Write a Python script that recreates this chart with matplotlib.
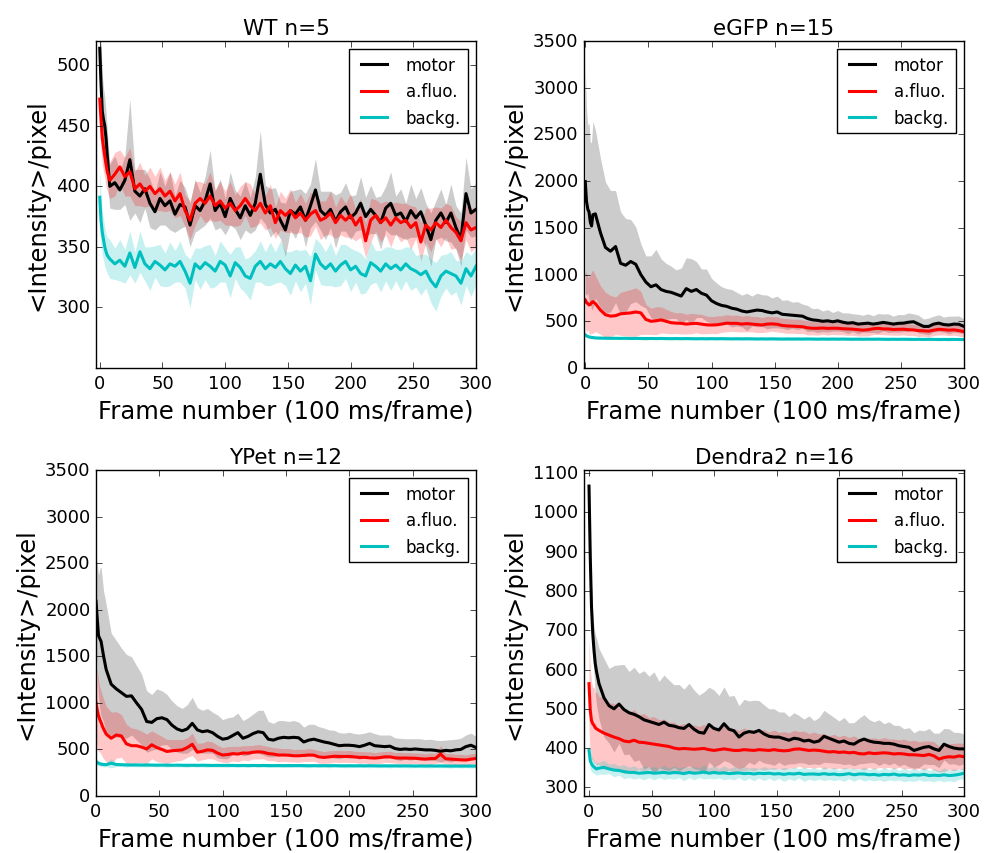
import matplotlib
matplotlib.use('Agg')
import matplotlib.pyplot as plt
import numpy as np

plt.style.use('classic')
plt.rcParams['font.family'] = ['DejaVu Sans']
plt.rcParams['figure.facecolor'] = 'white'
plt.rcParams['savefig.facecolor'] = 'white'

# frame numbers at which values were read
FRAMES = [0, 1, 2, 3, 4, 5, 6] + list(range(8, 301, 4))

SERIES_LABELS = ['motor', 'a.fluo.', 'backg.']
TITLES = ['WT n=5', 'eGFP n=15', 'YPet n=12', 'Dendra2 n=16']
X_TICKS = [0, 50, 100, 150, 200, 250, 300]

# ---------------- WT ----------------
wt_motor = [514, 485, 462, 455, 450, 440, 425, 400, 403, 397,
            405, 422, 396, 392, 398, 386, 379, 390, 384, 388,
            377, 385, 383, 368, 384, 380, 388, 402, 380, 386,
            375, 390, 381, 374, 384, 376, 386, 410, 385, 378,
            381, 372, 364, 380, 377, 383, 372, 384, 397, 380,
            376, 381, 371, 379, 383, 374, 378, 386, 375, 381,
            376, 370, 382, 386, 376, 378, 371, 380, 374, 379,
            368, 356, 372, 378, 370, 378, 366, 356, 394, 378,
            381]
wt_motor_sd = [40, 35, 30, 26, 24, 22, 20, 18, 22, 16,
               20, 50, 18, 22, 16, 20, 15, 22, 16, 24,
               15, 20, 16, 18, 22, 15, 20, 28, 16, 20,
               15, 22, 16, 18, 20, 15, 22, 36, 16, 20,
               18, 15, 22, 16, 20, 15, 22, 18, 26, 16,
               20, 15, 22, 16, 20, 18, 15, 22, 16, 20,
               15, 22, 18, 26, 16, 20, 15, 22, 16, 20,
               18, 22, 16, 20, 15, 24, 18, 22, 30, 20,
               22]
wt_afluo = [472, 455, 440, 432, 425, 418, 412, 405, 410, 416,
            408, 412, 398, 402, 396, 400, 394, 398, 392, 396,
            388, 394, 380, 372, 386, 390, 386, 392, 384, 388,
            382, 386, 380, 384, 390, 384, 380, 386, 378, 384,
            370, 380, 376, 380, 374, 378, 372, 377, 380, 372,
            374, 378, 370, 376, 372, 376, 368, 374, 355, 372,
            376, 370, 374, 368, 374, 370, 372, 366, 370, 354,
            368, 364, 370, 366, 372, 366, 362, 355, 370, 364,
            366]
wt_afluo_sd = [28, 25, 22, 20, 18, 18, 16, 15, 18, 14,
               16, 20, 14, 18, 13, 16, 14, 18, 13, 16,
               14, 18, 13, 16, 18, 14, 16, 20, 13, 16,
               14, 18, 13, 16, 14, 18, 13, 16, 14, 18,
               13, 16, 14, 18, 13, 16, 14, 18, 13, 16,
               14, 18, 13, 16, 14, 18, 13, 16, 14, 18,
               13, 16, 14, 18, 13, 16, 14, 18, 13, 16,
               14, 18, 13, 16, 14, 18, 13, 16, 14, 18,
               16]
wt_backg = [391, 372, 362, 356, 350, 346, 343, 340, 336, 339,
            334, 345, 333, 346, 336, 332, 338, 335, 331, 336,
            334, 338, 330, 320, 336, 332, 337, 334, 330, 338,
            335, 326, 337, 333, 326, 324, 334, 338, 332, 336,
            333, 338, 332, 328, 335, 330, 334, 322, 344, 336,
            332, 336, 330, 335, 338, 331, 334, 328, 326, 337,
            334, 330, 336, 332, 335, 331, 336, 332, 330, 327,
            330, 322, 317, 326, 330, 328, 326, 320, 332, 326,
            334]
wt_backg_sd = [24, 20, 18, 17, 16, 15, 15, 16, 13, 17,
               14, 18, 13, 17, 14, 18, 13, 17, 14, 18,
               13, 17, 14, 20, 13, 17, 14, 18, 13, 17,
               14, 18, 13, 17, 14, 18, 13, 17, 14, 18,
               13, 17, 14, 18, 13, 17, 14, 20, 13, 17,
               14, 18, 13, 17, 14, 18, 13, 17, 14, 18,
               13, 17, 14, 18, 13, 17, 14, 18, 13, 17,
               14, 18, 20, 17, 14, 18, 13, 18, 14, 17,
               15]

# ---------------- eGFP ----------------
egfp_motor = [1996, 1780, 1700, 1670, 1560, 1520, 1640, 1650, 1450, 1290,
              1250, 1300, 1120, 1100, 1140, 1110, 1000, 920, 870, 890,
              840, 820, 810, 790, 770, 850, 820, 840, 800, 780,
              720, 690, 670, 660, 640, 630, 610, 600, 610, 620,
              615, 600, 590, 600, 575, 570, 565, 560, 555, 530,
              515, 510, 500, 505, 495, 505, 490, 480, 485, 470,
              475, 480, 470, 478, 488, 480, 470, 478, 480, 490,
              495, 470, 445, 445, 470, 480, 465, 460, 470, 468,
              445]
egfp_motor_sd = [1200, 1000, 900, 950, 850, 900, 1000, 900, 800, 700,
                 650, 600, 550, 500, 450, 400, 330, 280, 330, 380,
                 330, 300, 280, 260, 300, 330, 350, 300, 260, 280,
                 240, 220, 200, 190, 200, 180, 170, 200, 160, 180,
                 170, 180, 160, 170, 150, 160, 140, 150, 130, 140,
                 120, 130, 110, 120, 100, 110, 100, 110, 95, 105,
                 90, 100, 90, 105, 90, 100, 85, 95, 90, 100,
                 85, 95, 80, 90, 85, 90, 80, 95, 85, 90,
                 80]
egfp_afluo = [728, 700, 690, 675, 680, 700, 710, 690, 620, 570,
              555, 560, 580, 585, 590, 600, 590, 520, 500, 505,
              515, 500, 485, 480, 478, 470, 475, 478, 470, 462,
              460, 462, 470, 480, 478, 478, 470, 475, 470, 465,
              460, 470, 472, 468, 455, 450, 448, 445, 442, 430,
              425, 425, 428, 424, 426, 425, 420, 418, 415, 410,
              405, 410, 420, 425, 418, 418, 412, 414, 415, 410,
              407, 400, 398, 394, 405, 414, 410, 405, 408, 400,
              390]
egfp_afluo_sd = [300, 320, 280, 300, 320, 330, 340, 300, 260, 240,
                 220, 200, 230, 240, 250, 260, 230, 160, 140, 150,
                 140, 130, 120, 110, 115, 105, 110, 100, 105, 95,
                 90, 95, 88, 92, 85, 90, 84, 88, 82, 86,
                 80, 84, 78, 82, 76, 80, 74, 78, 72, 76,
                 70, 74, 68, 72, 66, 70, 65, 69, 64, 68,
                 63, 67, 62, 66, 61, 65, 60, 64, 60, 64,
                 58, 62, 58, 62, 57, 61, 56, 60, 56, 60,
                 56]
egfp_backg = [355, 345, 338, 333, 330, 328, 326, 322, 320, 319,
              318, 318, 317, 318, 316, 317, 316, 315, 316, 315,
              316, 315, 314, 315, 314, 315, 314, 313, 314, 313,
              314, 313, 314, 313, 312, 313, 312, 313, 312, 311,
              312, 311, 312, 311, 310, 311, 310, 311, 310, 311,
              310, 309, 310, 309, 310, 309, 310, 309, 308, 309,
              308, 309, 308, 309, 308, 307, 308, 307, 308, 307,
              306, 307, 306, 307, 306, 305, 306, 305, 306, 305,
              305]
egfp_backg_sd = [22, 20, 18, 16, 15, 14, 14, 13, 12, 14,
                 11, 13, 12, 14, 11, 13, 12, 14, 11, 13,
                 12, 14, 11, 13, 12, 14, 11, 13, 12, 14,
                 11, 13, 12, 14, 11, 13, 12, 14, 11, 13,
                 12, 14, 11, 13, 12, 14, 11, 13, 12, 14,
                 11, 13, 12, 14, 11, 13, 12, 14, 11, 13,
                 12, 14, 11, 13, 12, 14, 11, 13, 12, 14,
                 11, 13, 12, 14, 11, 13, 12, 14, 11, 13,
                 12]

# ---------------- YPet ----------------
ypet_motor = [2092, 1900, 1720, 1690, 1660, 1580, 1500, 1360, 1200, 1150,
              1110, 1070, 1075, 1000, 930, 800, 790, 830, 840, 820,
              760, 720, 700, 720, 780, 710, 690, 700, 680, 640,
              610, 620, 650, 680, 620, 640, 670, 690, 680, 610,
              600, 620, 630, 625, 630, 625, 580, 600, 610, 595,
              580, 570, 555, 540, 545, 545, 540, 530, 545, 565,
              540, 535, 530, 535, 510, 500, 505, 500, 505, 500,
              495, 495, 490, 480, 490, 485, 495, 500, 530, 545,
              520]
ypet_motor_sd = [450, 600, 650, 750, 800, 750, 700, 700, 550, 520,
                 480, 450, 420, 400, 380, 330, 300, 320, 290, 270,
                 260, 250, 240, 260, 280, 240, 230, 240, 220, 230,
                 210, 220, 200, 210, 190, 200, 210, 230, 240, 190,
                 180, 190, 180, 175, 180, 170, 160, 170, 160, 150,
                 150, 140, 150, 140, 130, 140, 130, 135, 130, 125,
                 130, 120, 125, 120, 115, 120, 110, 115, 110, 115,
                 110, 115, 110, 115, 110, 120, 115, 120, 125, 130,
                 120]
ypet_afluo = [1003, 920, 860, 820, 790, 750, 720, 665, 620, 655,
              645, 560, 540, 540, 525, 505, 550, 520, 500, 478,
              486, 490, 495, 520, 555, 470, 480, 495, 490, 460,
              440, 445, 455, 450, 462, 460, 470, 475, 470, 455,
              450, 440, 440, 438, 432, 432, 436, 440, 438, 420,
              414, 420, 426, 425, 424, 425, 420, 414, 415, 410,
              407, 412, 420, 420, 410, 407, 408, 406, 405, 400,
              396, 402, 403, 450, 400, 396, 392, 388, 386, 395,
              403]
ypet_afluo_sd = [400, 420, 380, 350, 340, 330, 320, 300, 280, 250,
                 230, 210, 190, 180, 170, 160, 150, 150, 140, 130,
                 120, 115, 110, 105, 120, 95, 90, 95, 90, 85,
                 80, 85, 78, 82, 76, 80, 74, 78, 72, 76,
                 70, 74, 68, 72, 66, 70, 65, 69, 64, 68,
                 63, 67, 62, 66, 61, 65, 60, 64, 60, 64,
                 58, 62, 58, 62, 57, 61, 56, 60, 56, 60,
                 56, 60, 55, 90, 55, 59, 55, 59, 55, 58,
                 56]
ypet_backg = [368, 360, 352, 346, 342, 340, 338, 336, 352, 338,
              336, 334, 333, 334, 332, 333, 332, 331, 332, 331,
              330, 331, 330, 329, 330, 329, 330, 329, 328, 329,
              328, 329, 328, 327, 328, 327, 328, 327, 328, 327,
              326, 327, 326, 327, 326, 327, 326, 325, 326, 325,
              326, 325, 326, 325, 324, 325, 324, 325, 324, 325,
              324, 323, 324, 323, 324, 323, 324, 323, 322, 323,
              322, 323, 322, 323, 322, 321, 322, 321, 322, 321,
              322]
ypet_backg_sd = [30, 30, 28, 26, 25, 24, 24, 22, 50, 22,
                 18, 24, 16, 22, 18, 22, 16, 20, 18, 22,
                 16, 20, 18, 22, 16, 20, 18, 22, 16, 20,
                 18, 22, 16, 20, 18, 22, 16, 20, 18, 22,
                 16, 20, 18, 22, 16, 20, 18, 22, 16, 20,
                 18, 22, 16, 20, 18, 22, 16, 20, 18, 22,
                 16, 20, 18, 22, 16, 20, 18, 22, 16, 20,
                 18, 22, 16, 20, 18, 22, 16, 20, 18, 22,
                 18]

# ---------------- Dendra2 ----------------
dendra_motor = [1067, 888, 760, 692, 649, 615, 595, 564, 528, 508,
                500, 512, 498, 490, 486, 480, 472, 468, 464, 460,
                466, 458, 456, 452, 450, 460, 448, 440, 438, 460,
                450, 446, 462, 448, 444, 428, 438, 442, 440, 445,
                436, 430, 428, 428, 424, 420, 425, 423, 418, 420,
                415, 418, 430, 425, 420, 415, 418, 412, 410, 418,
                423, 418, 415, 414, 412, 412, 410, 406, 404, 402,
                394, 398, 402, 404, 398, 394, 410, 404, 400, 398,
                398]
dendra_motor_sd = [45, 70, 55, 50, 60, 75, 85, 90, 100, 95,
                   110, 100, 115, 105, 120, 110, 125, 115, 130, 110,
                   120, 115, 105, 110, 100, 105, 100, 95, 105, 95,
                   98, 88, 94, 84, 90, 80, 86, 78, 82, 76,
                   74, 70, 72, 64, 68, 60, 65, 60, 56, 62,
                   55, 60, 66, 62, 58, 54, 60, 52, 55, 58,
                   62, 55, 52, 58, 50, 55, 48, 52, 45, 50,
                   45, 48, 42, 46, 40, 44, 40, 45, 40, 42,
                   38]
dendra_afluo = [564, 496, 470, 462, 458, 452, 449, 445, 438, 433,
                428, 424, 418, 416, 420, 415, 414, 412, 410, 408,
                406, 404, 400, 398, 399, 398, 397, 398, 399, 396,
                394, 396, 398, 396, 394, 394, 396, 395, 394, 396,
                395, 394, 396, 394, 393, 394, 397, 398, 396, 394,
                395, 394, 392, 390, 391, 389, 390, 388, 389, 386,
                385, 388, 386, 387, 388, 387, 385, 386, 385, 383,
                383, 382, 381, 384, 380, 372, 376, 378, 377, 380,
                378]
dendra_afluo_sd = [120, 105, 100, 92, 98, 88, 94, 86, 92, 82,
                   86, 78, 82, 74, 78, 70, 74, 66, 70, 64,
                   68, 62, 66, 60, 64, 58, 62, 57, 61, 56,
                   60, 55, 58, 53, 56, 51, 55, 50, 53, 49,
                   52, 47, 50, 46, 49, 45, 48, 44, 47, 43,
                   46, 42, 45, 41, 44, 40, 43, 39, 42, 38,
                   41, 37, 40, 36, 39, 36, 38, 35, 38, 35,
                   37, 34, 37, 34, 36, 33, 36, 33, 35, 33,
                   34]
dendra_backg = [394, 368, 360, 355, 352, 349, 347, 349, 351, 347,
                344, 343, 340, 338, 338, 336, 337, 338, 336, 337,
                338, 336, 338, 337, 335, 338, 336, 337, 339, 336,
                338, 336, 337, 335, 336, 337, 335, 336, 334, 336,
                335, 336, 334, 335, 333, 335, 334, 336, 333, 334,
                334, 333, 335, 333, 334, 332, 333, 335, 332, 334,
                334, 332, 333, 331, 333, 332, 334, 331, 332, 330,
                332, 331, 333, 330, 331, 330, 332, 330, 331, 333,
                336]
dendra_backg_sd = [25, 22, 20, 18, 17, 16, 16, 15, 18, 12,
                   17, 12, 18, 13, 17, 12, 18, 13, 17, 12,
                   18, 13, 17, 12, 18, 13, 17, 12, 18, 13,
                   17, 12, 18, 13, 17, 12, 18, 13, 17, 12,
                   18, 13, 17, 12, 18, 13, 17, 12, 18, 13,
                   17, 12, 18, 13, 17, 12, 18, 13, 17, 12,
                   18, 13, 17, 12, 18, 13, 17, 12, 18, 13,
                   17, 12, 18, 13, 17, 12, 18, 13, 17, 12,
                   15]

PANELS = [
    dict(title=TITLES[0], series=[(wt_motor, wt_motor_sd), (wt_afluo, wt_afluo_sd), (wt_backg, wt_backg_sd)],
         ylim=(250, 520), yticks=[300, 350, 400, 450, 500], xlim=(-3, 300)),
    dict(title=TITLES[1], series=[(egfp_motor, egfp_motor_sd), (egfp_afluo, egfp_afluo_sd), (egfp_backg, egfp_backg_sd)],
         ylim=(0, 3500), yticks=list(range(0, 3501, 500)), xlim=(-1, 300)),
    dict(title=TITLES[2], series=[(ypet_motor, ypet_motor_sd), (ypet_afluo, ypet_afluo_sd), (ypet_backg, ypet_backg_sd)],
         ylim=(0, 3500), yticks=list(range(0, 3501, 500)), xlim=(0, 300)),
    dict(title=TITLES[3], series=[(dendra_motor, dendra_motor_sd), (dendra_afluo, dendra_afluo_sd), (dendra_backg, dendra_backg_sd)],
         ylim=(278, 1108), yticks=list(range(300, 1101, 100)), xlim=(-4, 300)),
]

COLORS = ['k', 'r', 'c']
BAND_ALPHA = [0.2, 0.22, 0.22]

W, H = 987, 854
fig = plt.figure(figsize=(W / 100, H / 100), dpi=100)
boxes = [(96, 42, 476, 369), (584, 42, 964, 369), (96, 471, 476, 797), (584, 471, 964, 797)]

x = np.array(FRAMES)
for panel, (l, t, r, b) in zip(PANELS, boxes):
    ax = fig.add_axes([l / W, 1 - b / H, (r - l) / W, (b - t) / H])
    for (mean, sd), color, alpha, lab in zip(panel['series'], COLORS, BAND_ALPHA, SERIES_LABELS):
        m = np.array(mean, dtype=float)
        s = np.array(sd, dtype=float)
        ax.fill_between(x, m - s, m + s, color=color, alpha=alpha, linewidth=0)
        ax.plot(x, m, color=color, lw=2.2, label=lab)
    ax.set_xlim(*panel['xlim'])
    ax.set_ylim(*panel['ylim'])
    ax.set_xticks(X_TICKS)
    ax.set_yticks(panel['yticks'])
    ax.tick_params(labelsize=13)
    ax.set_title(panel['title'], fontsize=15.5)
    ax.set_xlabel('Frame number (100 ms/frame)', fontsize=17.5)
    ax.set_ylabel('<Intensity>/pixel', fontsize=17.5)
    ax.legend(loc='upper right', fontsize=12, handlelength=2.2)

fig.savefig('out.png', dpi=100)
